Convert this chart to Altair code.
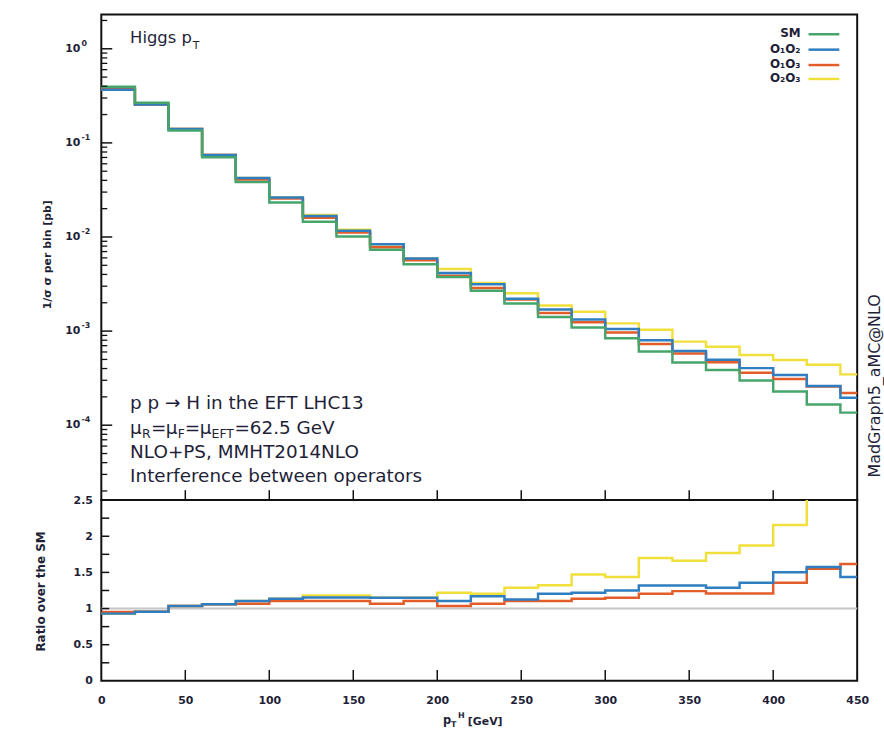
import altair as alt
import pandas as pd

# Lower edges of the Higgs transverse-momentum bins [GeV]; the last bin is cut at pt_max
bin_lo = [0, 20, 40, 60, 80, 100, 120, 140, 160, 180, 200, 220,
          240, 260, 280, 300, 320, 340, 360, 380, 400, 420, 440]
pt_max = 450

# SM cross section per bin, normalised [pb]
sm = [0.394, 0.267, 0.1355, 0.0703, 0.0383, 0.0232, 0.0145, 0.0101,
      0.0073, 0.00514, 0.00375, 0.00269, 0.00196, 0.00141, 0.00109,
      0.00084, 0.000607, 0.000465, 0.000386, 0.000298, 0.000228,
      0.000166, 0.000136]

# Ratio over the SM for each pair of interfering operators
ratio_o1o2 = [0.93, 0.957, 1.035, 1.058, 1.103, 1.136, 1.154, 1.154,
              1.149, 1.149, 1.103, 1.17, 1.126, 1.204, 1.218, 1.25,
              1.319, 1.319, 1.287, 1.356, 1.502, 1.575, 1.438]
ratio_o1o3 = [0.952, 0.957, 1.035, 1.058, 1.067, 1.103, 1.103, 1.103,
              1.067, 1.103, 1.035, 1.067, 1.103, 1.103, 1.136, 1.15,
              1.204, 1.241, 1.209, 1.209, 1.356, 1.552, 1.617]
ratio_o2o3 = [0.93, 0.957, 1.035, 1.058, 1.103, 1.136, 1.18, 1.18,
              1.149, 1.149, 1.218, 1.204, 1.287, 1.323, 1.47, 1.438,
              1.699, 1.662, 1.767, 1.872, 2.157, 2.65, 2.55]

series_names = ["SM", "O₁O₂", "O₁O₃", "O₂O₃"]
series_colors = ["#47a56b", "#2f7ec1", "#e35d2a", "#f1e03c"]

# decade tick labels of the spectrum axis: mantissa 10 and exponent
decades = [1.0, 1e-1, 1e-2, 1e-3, 1e-4]
decade_exp = ["0", "-1", "-2", "-3", "-4"]

W, H_TOP, H_RAT = 761, 489, 182
INK = "#1f1f38"
FONT = "DejaVu Sans"


def step_frame(values):
    return pd.DataFrame({"pt": bin_lo + [pt_max], "v": list(values) + [values[-1]]})


spectra = {
    "SM": sm,
    "O₁O₂": [s * r for s, r in zip(sm, ratio_o1o2)],
    "O₁O₃": [s * r for s, r in zip(sm, ratio_o1o3)],
    "O₂O₃": [s * r for s, r in zip(sm, ratio_o2o3)],
}
ratios = {"O₁O₂": ratio_o1o2, "O₁O₃": ratio_o1o3, "O₂O₃": ratio_o2o3}
color_of = dict(zip(series_names, series_colors))

x_scale = alt.Scale(domain=[0, pt_max], nice=False, zero=False)
y_top_scale = alt.Scale(type="log", domain=[1.6e-5, 2.32], nice=False)
y_rat_scale = alt.Scale(domain=[0, 2.5], nice=False, zero=False)

y_rat_axis = alt.Axis(values=[0, 0.5, 1, 1.5, 2, 2.5], format="~g",
                      ticks=False, tickSize=0, domain=False, grid=False, title=None,
                      labelPadding=9, labelFont=FONT, labelFontSize=11,
                      labelFontWeight="bold", labelColor=INK)
x_rat_axis = alt.Axis(values=list(range(0, 451, 50)), format="d",
                      ticks=False, tickSize=0, domain=False, grid=False, title=None,
                      labelPadding=14, labelFont=FONT, labelFontSize=11,
                      labelFontWeight="bold", labelColor=INK, labelFlush=False)


def step_line(df, color, y_scale, y_axis, x_axis, clip=False):
    return alt.Chart(df).mark_line(
        interpolate="step-after", color=color, strokeWidth=2.5, clip=clip
    ).encode(
        x=alt.X("pt:Q", scale=x_scale, axis=x_axis),
        y=alt.Y("v:Q", scale=y_scale, axis=y_axis),
    )


def label(text, x, y, size, weight="normal", align="left", baseline="alphabetic", angle=0):
    return alt.Chart(pd.DataFrame({"k": [0]})).mark_text(
        text=text, font=FONT, fontSize=size, fontWeight=weight, color=INK,
        align=align, baseline=baseline, angle=angle,
    ).encode(x=alt.value(x), y=alt.value(y))


# ---------- upper panel: spectra ----------
top_layers = []
for name in ["O₂O₃", "O₁O₃", "O₁O₂", "SM"]:
    top_layers.append(step_line(step_frame(spectra[name]), color_of[name],
                                y_top_scale, None, None))

minor = [k * 10.0 ** e for e in range(-5, 1) for k in range(2, 10)
         if 1.6e-5 < k * 10.0 ** e < 2.32]
top_layers.append(alt.Chart(pd.DataFrame({"v": decades})).mark_rule(color="#111", strokeWidth=1.5)
                  .encode(y=alt.Y("v:Q", scale=y_top_scale, axis=None),
                          x=alt.value(0), x2=alt.value(11)))
top_layers.append(alt.Chart(pd.DataFrame({"v": minor})).mark_rule(color="#111", strokeWidth=1.3)
                  .encode(y=alt.Y("v:Q", scale=y_top_scale, axis=None),
                          x=alt.value(0), x2=alt.value(6)))
dec_df = pd.DataFrame({"v": decades, "e": decade_exp})
top_layers.append(alt.Chart(dec_df)
                  .mark_text(align="right", baseline="middle", font=FONT, fontSize=11,
                             fontWeight="bold", color=INK, text="10")
                  .encode(y=alt.Y("v:Q", scale=y_top_scale, axis=None), x=alt.value(-21)))
top_layers.append(alt.Chart(dec_df)
                  .mark_text(align="left", baseline="middle", font=FONT, fontSize=8,
                             fontWeight="bold", color=INK, dy=-5)
                  .encode(y=alt.Y("v:Q", scale=y_top_scale, axis=None), x=alt.value(-20),
                          text="e:N"))
x_ticks = list(range(50, 401, 50))
top_layers.append(alt.Chart(pd.DataFrame({"pt": x_ticks})).mark_rule(color="#111", strokeWidth=1.5)
                  .encode(x=alt.X("pt:Q", scale=x_scale, axis=None),
                          y=alt.value(H_TOP), y2=alt.value(H_TOP - 10)))

# title of the observable
top_layers.append(label("Higgs p", 29, 29, 16.5))
top_layers.append(label("T", 92, 35, 11))

# legend: names to the left of short line samples
legend_y = [20, 35.5, 51, 65]
for name, ly in zip(series_names, legend_y):
    top_layers.append(alt.Chart(pd.DataFrame({"k": [0]}))
                      .mark_rule(color=color_of[name], strokeWidth=2.5)
                      .encode(x=alt.value(712), x2=alt.value(743), y=alt.value(ly)))
    top_layers.append(label(name, 704, ly - 1, 12, weight="bold", align="right", baseline="middle"))

# process description
ann = 18.5
sub = 12.5
top_layers.append(label("p p → H in the EFT LHC13", 29, 397, ann))
pieces = [("μ", 29, 0, ann), ("R", 41, 4, sub), ("=", 50, 0, ann),
          ("μ", 65, 0, ann), ("F", 77, 4, sub), ("=", 84, 0, ann),
          ("μ", 99, 0, ann), ("EFT", 111, 4, sub), ("=62.5 GeV", 134, 0, ann)]
for txt, px, dy, sz in pieces:
    top_layers.append(label(txt, px, 422 + dy, sz))
top_layers.append(label("NLO+PS, MMHT2014NLO", 29, 447, ann))
top_layers.append(label("Interference between operators", 29, 471, ann))

# generator tag along the right edge and the axis title
top_layers.append(label("MadGraph5_aMC@NLO", 771, 374, 16, align="center",
                        baseline="top", angle=270))
top_layers.append(label("1/σ σ per bin [pb]", -54, 242, 11, weight="bold",
                        align="center", baseline="middle", angle=270))

top = alt.layer(*top_layers).properties(width=W, height=H_TOP)

# ---------- lower panel: ratio over the SM ----------
rat_layers = []
# page-sized transparent frame that fixes the canvas extent
rat_layers.append(alt.Chart(pd.DataFrame({"k": [0]})).mark_rect(opacity=0)
                  .encode(x=alt.value(-101), x2=alt.value(783),
                          y=alt.value(-500), y2=alt.value(230)))
rat_layers.append(alt.Chart(pd.DataFrame({"v": [1.0]})).mark_rule(color="#c6c6c6", strokeWidth=2)
                  .encode(y=alt.Y("v:Q", scale=y_rat_scale, axis=y_rat_axis),
                          x=alt.value(0), x2=alt.value(W)))
for name in ["O₂O₃", "O₁O₃", "O₁O₂"]:
    rat_layers.append(step_line(step_frame(ratios[name]), color_of[name],
                                y_rat_scale, y_rat_axis, x_rat_axis, clip=True))

rat_ticks = [0.25 * i for i in range(1, 10)]
rat_layers.append(alt.Chart(pd.DataFrame({"v": rat_ticks})).mark_rule(color="#111", strokeWidth=1.5)
                  .encode(y=alt.Y("v:Q", scale=y_rat_scale, axis=y_rat_axis),
                          x=alt.value(0), x2=alt.value(8)))
rat_layers.append(alt.Chart(pd.DataFrame({"pt": x_ticks})).mark_rule(color="#111", strokeWidth=1.5)
                  .encode(x=alt.X("pt:Q", scale=x_scale, axis=x_rat_axis),
                          y=alt.value(H_RAT), y2=alt.value(H_RAT - 11)))

rat_layers.append(label("Ratio over the SM", -61, 92, 12, weight="bold",
                        align="center", baseline="middle", angle=270))
rat_layers.append(label("p", 344, 225, 11.5, weight="bold"))
rat_layers.append(label("T", 352, 228.5, 8, weight="bold"))
rat_layers.append(label("H", 359, 219, 8, weight="bold"))
rat_layers.append(label("[GeV]", 369, 226, 11, weight="bold"))

ratio = alt.layer(*rat_layers).properties(width=W, height=H_RAT)

chart = alt.vconcat(top, ratio, spacing=0, bounds="flush").properties(
    padding={"left": 0, "top": 0, "right": 0, "bottom": 0},
    background="white",
).configure_view(stroke="#111", strokeWidth=2)

chart.save("out.html", embed_options={"renderer": "svg", "actions": False})
